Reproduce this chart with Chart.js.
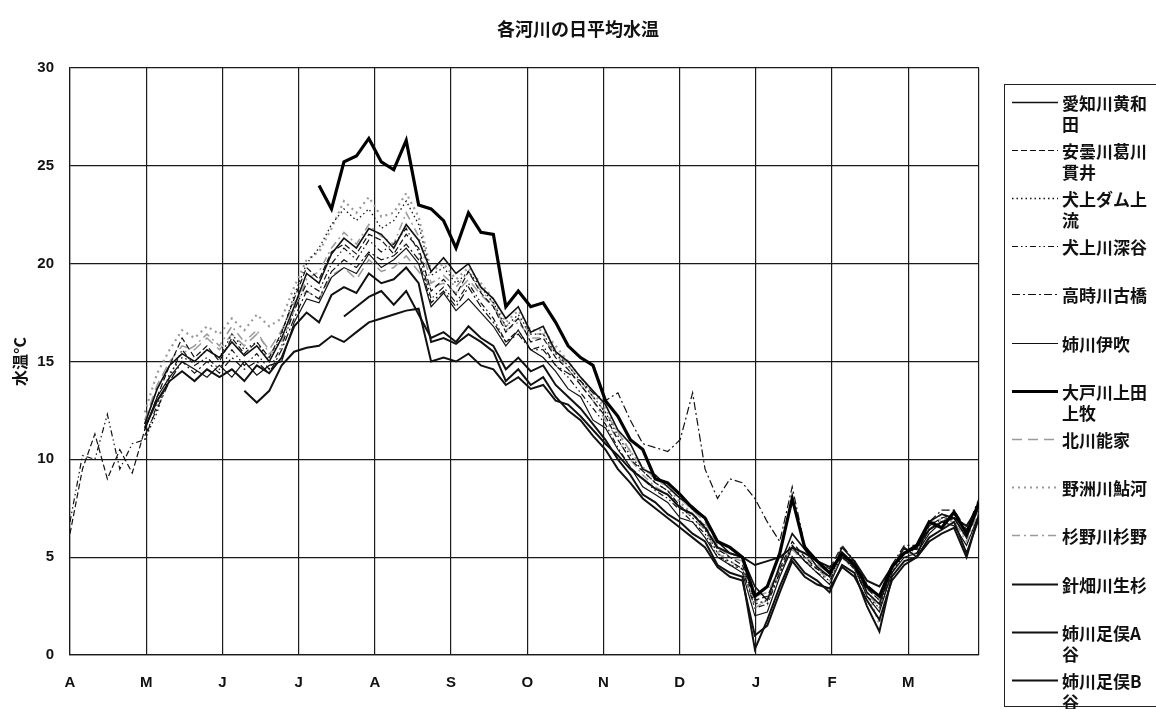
<!DOCTYPE html>
<html lang="ja">
<head>
<meta charset="utf-8">
<title>各河川の日平均水温</title>
<script src="https://cdn.jsdelivr.net/npm/chart.js@4.4.1/dist/chart.umd.min.js"></script>
<style>
  html, body { margin: 0; padding: 0; background: #fff; }
  body { width: 1156px; height: 709px; overflow: hidden; position: relative; }
  #chart { position: absolute; left: 0; top: 0; }
  #title {
    position: absolute; left: 0; top: 17px; width: 1156px; text-align: center;
    font-family: "Noto Sans CJK JP", sans-serif; font-weight: bold; font-size: 18px;
    line-height: 22px; color: #111;
  }
  #legend {
    position: absolute; left: 1004px; top: 84px; width: 170px; height: 623px;
    border: 1px solid #222; box-sizing: border-box;
    font-family: "Noto Sans CJK JP", sans-serif;
  }
  .item { position: absolute; left: 0; display: flex; align-items: flex-start; }
  .item svg { margin-left: 7px; flex: none; }
  .item span {
    width: 92px; margin-left: 4px; font-weight: bold; font-size: 17px;
    line-height: 21px; color: #111; word-break: break-all;
  }
</style>
</head>
<body>
<canvas id="chart" width="1156" height="709"></canvas>
<div id="title"></div>
<div id="legend"></div>
<script>
const TITLE = "各河川の日平均水温";
const Y_TITLE = "水温°C";

// month ticks (axis shows evenly spaced month marks, April..March)
const monthLabels = ["A", "M", "J", "J", "A", "S", "O", "N", "D", "J", "F", "M"];
const monthTickDays = [0, 30.6, 61.2, 91.8, 122.4, 153, 183.6, 214.2, 244.8, 275.4, 306, 336.6, 365];

// sample days since 1 April, every 5 days
const STEP_DAYS = 5;
const sampleDays = Array.from({ length: 74 }, (_, i) => i * STEP_DAYS);

const seriesNames = [
  "愛知川黄和田", "安曇川葛川貫井", "犬上ダム上流", "犬上川深谷", "高時川古橋",
  "姉川伊吹", "大戸川上田上牧", "北川能家", "野洲川鮎河", "杉野川杉野",
  "針畑川生杉", "姉川足俣A谷", "姉川足俣B谷"
];

const N6 = [null, null, null, null, null, null];

const echiKiwada = [...N6,
  11.8, 13.6, 14.8, 15.4, 15.0, 15.6, 15.2, 16.0, 15.3, 15.8,
  15.0, 16.2, 17.8, 19.5, 19.0, 20.5, 21.3, 20.8, 21.8, 21.5,
  20.8, 22.0, 21.2, 19.6, 20.3, 19.5, 20.0, 18.8, 18.2, 17.2,
  17.8, 16.5, 16.8, 15.5, 15.0, 14.2, 13.5, 12.8, 11.5, 10.8,
  9.5, 9.2, 8.6, 8.0, 7.6, 7.0, 5.8, 5.2, 5.0, 3.5,
  2.8, 4.6, 6.2, 5.4, 4.5, 4.0, 5.5, 4.8, 3.2, 2.6,
  4.4, 5.5, 5.0, 6.8, 7.2, 7.0, 6.0, 7.6];

const adoKatsuragawa = [6.2, 9.5, 11.3, 9.0, 10.5, 9.3,
  11.5, 13.2, 14.8, 16.2, 15.2, 15.8, 15.0, 16.2, 15.4, 16.0,
  15.2, 16.5, 18.2, 19.8, 19.2, 20.6, 21.0, 20.5, 21.5, 21.2,
  20.5, 21.5, 20.8, 18.6, 19.2, 18.4, 19.6, 18.5, 17.8, 16.5,
  17.2, 16.0, 16.2, 15.2, 14.6, 13.8, 13.0, 12.2, 11.0, 10.0,
  9.4, 8.8, 8.4, 7.6, 7.2, 6.6, 5.4, 5.0, 4.6, 2.8,
  3.0, 4.4, 5.8, 5.0, 4.4, 4.0, 5.2, 4.6, 3.4, 2.8,
  4.4, 5.4, 5.4, 6.6, 7.0, 7.2, 6.2, 7.8];

const inukamiDam = [...N6,
  11.0, 12.4, 14.4, 15.2, 15.0, 15.6, 15.2, 16.4, 15.6, 16.0,
  15.0, 16.4, 18.4, 20.0, 20.8, 22.0, 22.8, 22.2, 22.8, 21.8,
  22.2, 23.2, 22.0, 19.4, 19.8, 19.0, 19.6, 18.8, 18.0, 16.8,
  17.4, 16.4, 16.4, 15.4, 14.8, 14.0, 13.2, 12.4, 11.2, 10.2,
  9.4, 8.8, 8.4, 7.6, 7.0, 6.4, 5.2, 4.6, 4.4, 2.6,
  2.8, 4.2, 5.6, 4.8, 4.4, 4.0, 5.0, 4.4, 3.2, 2.6,
  4.2, 5.2, 5.4, 6.4, 7.0, 7.0, 6.0, 7.6];

const inukamiFukatani = [6.8, 10.2, 10.0, 12.3, 9.5, 10.8,
  11.0, 12.8, 14.2, 15.6, 14.8, 15.2, 14.6, 15.6, 14.8, 15.4,
  14.6, 15.8, 17.6, 19.0, 18.6, 20.0, 20.8, 20.2, 21.2, 20.6,
  21.0, 21.8, 20.6, 18.2, 18.8, 18.0, 19.0, 18.0, 17.2, 16.0,
  16.6, 15.6, 15.8, 14.8, 14.2, 13.4, 12.6, 11.8, 10.6, 9.6,
  9.0, 8.4, 8.0, 7.4, 6.8, 6.2, 5.0, 4.8, 4.4, 2.4,
  2.6, 4.2, 5.6, 4.8, 4.2, 3.8, 5.0, 4.4, 3.0, 2.4,
  4.2, 5.2, 5.2, 6.4, 6.8, 7.0, 6.0, 7.6];

const takatokiFuruhashi = [...N6,
  11.2, 12.6, 14.0, 15.0, 14.4, 15.0, 14.4, 15.2, 14.6, 15.0,
  14.4, 15.6, 17.2, 18.6, 18.2, 19.6, 20.2, 19.8, 20.6, 20.2,
  20.4, 21.0, 20.2, 18.0, 18.6, 17.8, 18.8, 17.8, 17.0, 16.0,
  16.4, 15.6, 15.6, 14.8, 14.4, 14.0, 13.4, 13.0, 13.4, 12.0,
  10.8, 10.6, 10.4, 11.0, 13.4, 9.5, 8.0, 9.0, 8.8, 8.0,
  6.8, 5.8, 8.6, 5.6, 4.8, 4.4, 5.6, 4.8, 3.6, 3.0,
  4.6, 5.6, 5.6, 6.8, 7.4, 7.4, 6.4, 8.0];

const anegawaIbuki = [...N6,
  11.5, 13.2, 14.2, 15.0, 14.6, 14.2, 14.8, 14.2, 15.0, 14.3,
  14.8, 15.0, 17.0, 18.2, 18.0, 19.3, 19.8, 19.5, 20.5, 19.8,
  20.2, 20.8, 20.0, 17.8, 18.5, 17.6, 18.2, 17.5, 16.8, 15.8,
  16.6, 15.6, 15.2, 14.5, 13.6, 13.2, 12.0, 11.6, 10.5, 9.6,
  8.6, 8.2, 7.8, 7.0, 6.8, 6.0, 5.0, 4.6, 4.2, 2.0,
  2.2, 4.0, 5.5, 4.8, 4.2, 3.6, 5.0, 4.5, 3.0, 2.2,
  4.2, 5.0, 5.2, 6.2, 6.8, 6.6, 5.6, 7.2];

const daidoKamitanakami = [
  null, null, null, null, null, null, null, null, null, null,
  null, null, null, null, null, null, null, null, null, null,
  24.0, 22.8, 25.2, 25.5, 26.4, 25.2, 24.8, 26.3, 23.0, 22.8,
  22.2, 20.8, 22.6, 21.6, 21.5, 17.8, 18.6, 17.8, 18.0, 17.0,
  15.8, 15.2, 14.8, 13.0, 12.2, 11.0, 10.5, 9.0, 8.8, 8.2,
  7.5, 7.0, 5.8, 5.5, 5.0, 3.0, 3.5, 5.2, 8.0, 5.5,
  4.8, 4.2, 5.2, 4.6, 3.5, 3.0, 4.5, 5.2, 5.6, 6.8,
  6.5, 7.3, 6.2, 7.8];

const kitagawaNoie = [...N6,
  12.0, 13.8, 15.0, 15.8, 15.6, 16.2, 15.6, 16.4, 15.8, 16.4,
  15.6, 16.6, 18.0, 18.6, 18.2, 19.4, 19.8, 19.2, 20.2, 19.6,
  19.8, 20.4, 19.6, 18.8, 19.0, 18.5, 19.2, 18.4, 17.8, 16.8,
  17.2, 16.4, 16.4, 15.6, 14.8, 14.0, 13.2, 12.4, 11.4, 10.4,
  9.6, 9.0, 8.6, 8.0, 7.4, 6.8, 5.6, 5.0, 4.8, 3.0,
  3.2, 4.4, 5.6, 5.0, 4.6, 4.2, 5.2, 4.6, 3.4, 2.8,
  4.4, 5.4, 5.4, 6.6, 7.2, 7.0, 6.2, 7.8];

const yasugawaAyukawa = [...N6,
  12.4, 14.4, 15.6, 16.6, 16.2, 16.8, 16.4, 17.2, 16.6, 17.4,
  16.8, 17.2, 18.8, 20.2, 20.6, 21.8, 23.2, 22.6, 23.4, 22.4,
  22.6, 23.6, 22.4, 19.6, 20.0, 19.2, 19.8, 19.0, 18.2, 17.0,
  17.6, 16.6, 16.6, 15.8, 15.0, 14.2, 13.4, 12.6, 11.4, 10.4,
  9.6, 9.0, 8.6, 7.8, 7.2, 6.6, 5.4, 4.6, 4.4, 2.8,
  2.6, 4.2, 5.4, 4.8, 4.4, 4.0, 5.0, 4.4, 3.2, 1.6,
  4.2, 5.2, 5.2, 6.4, 7.0, 6.8, 6.0, 7.6];

const suginoSugino = [...N6,
  11.8, 13.6, 14.8, 15.4, 15.8, 16.4, 15.8, 16.8, 16.0, 16.6,
  15.4, 16.0, 17.6, 19.2, 19.6, 20.8, 21.6, 21.0, 22.0, 21.4,
  21.0, 22.6, 21.4, 19.0, 19.4, 18.8, 19.6, 18.6, 18.0, 16.6,
  17.0, 16.2, 16.2, 15.4, 14.6, 13.8, 13.0, 12.0, 11.0, 10.0,
  9.2, 8.6, 8.2, 7.6, 7.0, 6.4, 5.2, 4.8, 4.4, 2.4,
  2.8, 4.2, 5.4, 4.8, 4.4, 3.8, 5.0, 4.4, 3.2, 2.4,
  4.2, 5.2, 5.2, 6.4, 6.8, 6.8, 5.8, 7.4];

const haribataOsugi = [
  null, null, null, null, null, null, null, null, null, null,
  null, null, null, null, null, null, null, null, null, null,
  null, null,
  17.3, 17.8, 18.3, 18.6, 17.9, 18.6, 17.4, 16.2, 16.5, 16.0,
  16.8, 16.2, 15.8, 14.6, 15.2, 14.5, 14.8, 13.8, 13.2, 12.6,
  11.8, 11.0, 10.0, 9.2, 8.2, 7.8, 7.2, 6.8, 6.2, 5.8,
  4.6, 4.2, 4.0, 0.3, 1.8, 3.5, 5.0, 4.2, 3.8, 3.2,
  4.6, 4.2, 2.5, 1.2, 4.0, 4.8, 5.0, 6.0, 6.4, 6.8,
  5.2, 7.0];

const anegawaAshimataA = [...N6,
  11.6, 13.0, 14.0, 14.5, 14.0, 14.6, 14.2, 14.6, 14.0, 14.8,
  14.4, 15.2, 16.8, 17.5, 17.0, 18.4, 18.8, 18.5, 19.5, 19.0,
  19.2, 19.8, 19.0, 16.0, 16.2, 15.9, 16.4, 16.0, 15.5, 14.0,
  14.6, 13.8, 14.2, 13.2, 12.5, 12.0, 11.2, 10.5, 9.5, 8.8,
  8.0, 7.5, 7.0, 6.5, 6.0, 5.5, 4.5, 4.0, 3.8, 1.0,
  1.5, 3.2, 4.8, 4.0, 3.6, 3.4, 4.5, 4.0, 2.8, 1.8,
  3.8, 4.6, 5.0, 5.8, 6.2, 6.5, 5.0, 7.2];

const anegawaAshimataB = [
  null, null, null, null, null, null, null, null, null, null,
  null, null, null, null,
  13.5, 12.9, 13.5, 14.8, 15.5, 15.7, 15.8, 16.3, 16.0, 16.5,
  17.0, 17.2, 17.4, 17.6, 17.7, 15.0, 15.2, 15.0, 15.4, 14.8,
  14.6, 13.8, 14.2, 13.6, 13.8, 13.0, 12.8, 12.2, 11.5, 10.8,
  10.2, 9.5, 9.0, 8.5, 8.2, 7.5, 7.2, 6.5, 5.5, 5.2,
  5.0, 4.6, 4.8, 5.0, 5.5, 5.2, 4.8, 4.5, 5.0, 4.8,
  3.8, 3.5, 4.5, 5.2, 5.5, 6.4, 6.8, 7.0, 6.6, 7.6];

const seriesValues = [
  echiKiwada, adoKatsuragawa, inukamiDam, inukamiFukatani, takatokiFuruhashi,
  anegawaIbuki, daidoKamitanakami, kitagawaNoie, yasugawaAyukawa, suginoSugino,
  haribataOsugi, anegawaAshimataA, anegawaAshimataB
];

// line styles per series (same order as the names)
const seriesStyles = [
  { color: "#111", width: 1.6, dash: [], order: 2 },
  { color: "#111", width: 1.2, dash: [6, 3], order: 2 },
  { color: "#111", width: 1.3, dash: [1.5, 3], order: 2 },
  { color: "#111", width: 1.2, dash: [6, 3, 1.5, 3, 1.5, 3], order: 2 },
  { color: "#111", width: 1.2, dash: [8, 3, 2, 3], order: 2 },
  { color: "#111", width: 1.2, dash: [], order: 2 },
  { color: "#000", width: 3.2, dash: [], order: 0 },
  { color: "#9a9a9a", width: 1.5, dash: [10, 6], order: 3 },
  { color: "#9a9a9a", width: 2.2, dash: [2, 4], order: 3 },
  { color: "#9a9a9a", width: 1.5, dash: [8, 4, 2, 4], order: 3 },
  { color: "#111", width: 2, dash: [], order: 1 },
  { color: "#111", width: 2, dash: [], order: 1 },
  { color: "#111", width: 2, dash: [], order: 1 }
];

const datasets = seriesNames.map((name, k) => ({
  label: name,
  data: seriesValues[k].map((v, i) => ({ x: sampleDays[i], y: v })),
  borderColor: seriesStyles[k].color,
  borderWidth: seriesStyles[k].width,
  borderDash: seriesStyles[k].dash,
  order: seriesStyles[k].order,
  pointRadius: 0,
  tension: 0,
  spanGaps: false,
  fill: false
}));

const tickFont = { family: "'Liberation Sans', Arial, sans-serif", size: 15, weight: "bold" };
const gridColor = "#1a1a1a";

document.getElementById("title").textContent = TITLE;

new Chart(document.getElementById("chart"), {
  type: "line",
  data: { datasets },
  options: {
    responsive: false,
    animation: false,
    layout: { padding: { left: 0, right: 177, top: 68, bottom: 0 } },
    plugins: {
      legend: { display: false },
      tooltip: { enabled: false },
      title: { display: false }
    },
    scales: {
      x: {
        type: "linear",
        min: 0,
        max: 365,
        afterBuildTicks: (scale) => {
          scale.ticks = monthTickDays.map((v) => ({ value: v }));
        },
        afterFit: (scale) => { scale.height = 54; },
        grid: { color: gridColor, lineWidth: 1.2, drawTicks: false },
        border: { color: gridColor, width: 1.2 },
        ticks: {
          autoSkip: false,
          maxRotation: 0,
          padding: 19,
          color: "#111",
          font: tickFont,
          callback: (value, index) => monthLabels[index] ?? ""
        }
      },
      y: {
        min: 0,
        max: 30,
        afterFit: (scale) => { scale.width = 70; },
        grid: { color: gridColor, lineWidth: 1.2, drawTicks: false },
        border: { color: gridColor, width: 1.2 },
        ticks: { stepSize: 5, padding: 16, color: "#111", font: tickFont },
        title: {
          display: true,
          text: Y_TITLE,
          color: "#111",
          font: { family: "'Noto Sans CJK JP', sans-serif", size: 16, weight: "bold" },
          padding: { top: 10, bottom: 0 }
        }
      }
    }
  }
});

// legend box on the right, labels wrap like the original
const legend = document.getElementById("legend");
seriesNames.forEach((name, k) => {
  const st = seriesStyles[k];
  const item = document.createElement("div");
  item.className = "item";
  item.style.top = (102 + k * 48.2 - 10.5 - 85) + "px";
  const svgNS = "http://www.w3.org/2000/svg";
  const svg = document.createElementNS(svgNS, "svg");
  svg.setAttribute("width", "46");
  svg.setAttribute("height", "21");
  const line = document.createElementNS(svgNS, "line");
  line.setAttribute("x1", "0");
  line.setAttribute("x2", "46");
  line.setAttribute("y1", "10.5");
  line.setAttribute("y2", "10.5");
  line.setAttribute("stroke", st.color);
  line.setAttribute("stroke-width", String(st.width));
  if (st.dash.length) line.setAttribute("stroke-dasharray", st.dash.join(" "));
  svg.appendChild(line);
  const label = document.createElement("span");
  label.textContent = name;
  item.appendChild(svg);
  item.appendChild(label);
  legend.appendChild(item);
});
</script>
</body>
</html>
